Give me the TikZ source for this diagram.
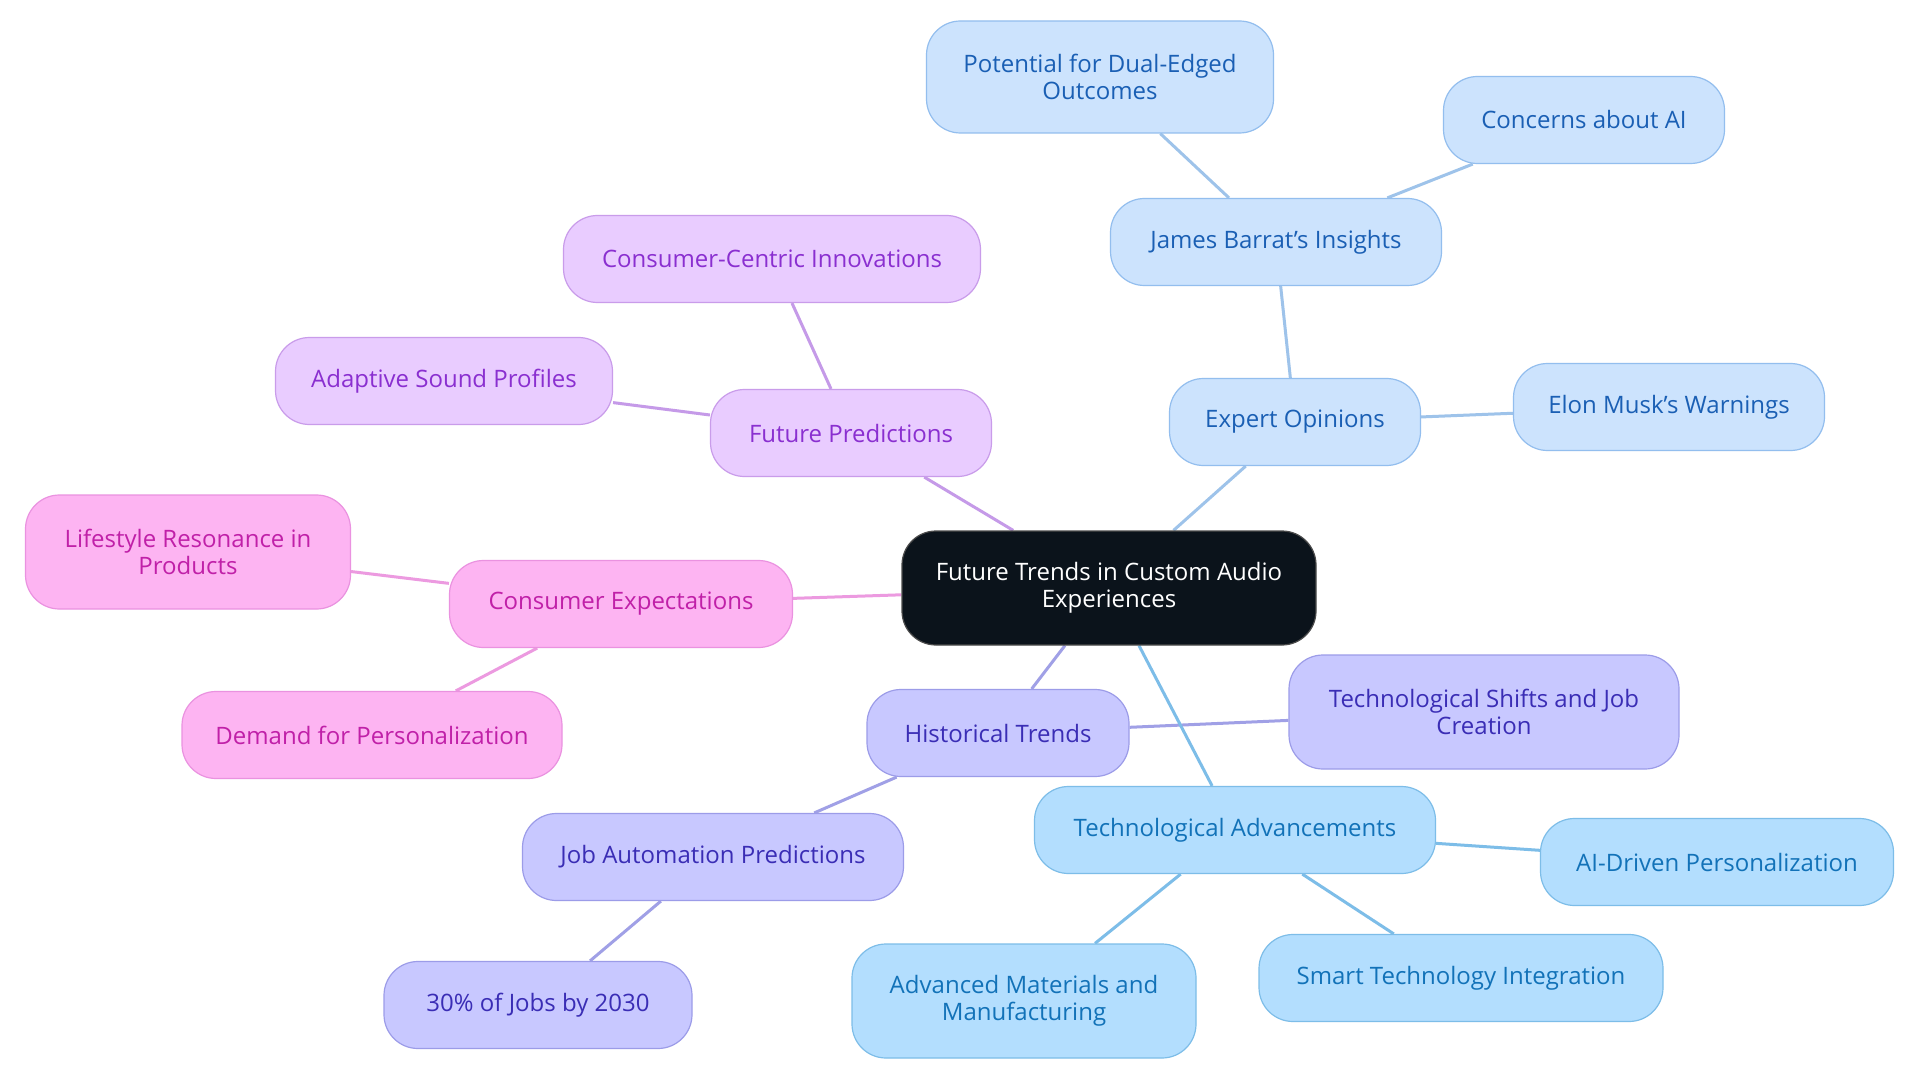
\documentclass[tikz,border=0pt]{standalone}
\usepackage{fontspec}
\setmainfont{Open Sans}
\usetikzlibrary{backgrounds}
\definecolor{bfill}{HTML}{CCE3FD}\definecolor{bdraw}{HTML}{93BEEE}\definecolor{btext}{HTML}{1A5FB4}\definecolor{bline}{HTML}{9EC3EA}
\definecolor{pfill}{HTML}{E9CCFF}\definecolor{pdraw}{HTML}{C99CEA}\definecolor{ptext}{HTML}{8A2FD0}\definecolor{pline}{HTML}{C59AE8}
\definecolor{kfill}{HTML}{FDB4F2}\definecolor{kdraw}{HTML}{EA92E0}\definecolor{ktext}{HTML}{C020A8}\definecolor{kline}{HTML}{EC9AE0}
\definecolor{ifill}{HTML}{C8C8FF}\definecolor{idraw}{HTML}{9C9CE8}\definecolor{itext}{HTML}{3A2DB5}\definecolor{iline}{HTML}{A0A0E6}
\definecolor{sfill}{HTML}{B3DEFE}\definecolor{sdraw}{HTML}{7DBDE8}\definecolor{stext}{HTML}{1272B8}\definecolor{sline}{HTML}{7DBDE8}
\definecolor{cfill}{HTML}{0B131B}
\tikzset{
  box/.style={rectangle, rounded corners=34pt, line width=1.2pt, align=center, inner sep=0pt,
    minimum height=87pt, font=\fontsize{24}{27}\selectfont},
  bluebox/.style={box, fill=bfill, draw=bdraw, text=btext},
  purpbox/.style={box, fill=pfill, draw=pdraw, text=ptext},
  pinkbox/.style={box, fill=kfill, draw=kdraw, text=ktext},
  indbox/.style={box, fill=ifill, draw=idraw, text=itext},
  skybox/.style={box, fill=sfill, draw=sdraw, text=stext},
  tall/.style={minimum height=114pt},
  conn/.style={line width=3pt}
}
\begin{document}
\begin{tikzpicture}[x=1pt,y=-1pt]
\useasboundingbox (0,0) rectangle (1920,1083);
% center
\node[box, fill=cfill, draw=black!70, text=white, minimum width=414pt, minimum height=114pt] (ctr) at (1109,588) {Future Trends in Custom Audio\\Experiences};
% blue
\node[bluebox, minimum width=251pt] (exp) at (1295,422) {Expert Opinions};
\node[bluebox, tall, minimum width=347pt, minimum height=112pt] (dual) at (1100,77) {Potential for Dual-Edged\\Outcomes};
\node[bluebox, minimum width=331pt] (bar) at (1276,242) {James Barrat's Insights};
\node[bluebox, minimum width=281pt] (conc) at (1584,120) {Concerns about AI};
\node[bluebox, minimum width=311pt] (musk) at (1669,407) {Elon Musk's Warnings};
% purple
\node[purpbox, minimum width=281pt] (fut) at (851,433) {Future Predictions};
\node[purpbox, minimum width=417pt] (cci) at (772,259) {Consumer-Centric Innovations};
\node[purpbox, minimum width=337pt] (asp) at (444,381) {Adaptive Sound Profiles};
% pink
\node[pinkbox, minimum width=343pt] (cex) at (621,604) {Consumer Expectations};
\node[pinkbox, tall, minimum width=325pt] (life) at (188,552) {Lifestyle Resonance in\\Products};
\node[pinkbox, minimum width=380pt] (dem) at (372,735) {Demand for Personalization};
% indigo
\node[indbox, minimum width=262pt] (hist) at (998,733) {Historical Trends};
\node[indbox, tall, minimum width=390pt] (shift) at (1484,712) {Technological Shifts and Job\\Creation};
\node[indbox, minimum width=381pt] (jap) at (713,857) {Job Automation Predictions};
\node[indbox, minimum width=308pt] (j30) at (538,1005) {30\% of Jobs by 2030};
% sky
\node[skybox, minimum width=401pt] (tech) at (1235,830) {Technological Advancements};
\node[skybox, minimum width=353pt] (aid) at (1717,862) {AI-Driven Personalization};
\node[skybox, tall, minimum width=344pt] (adv) at (1024,1001) {Advanced Materials and\\Manufacturing};
\node[skybox, minimum width=404pt] (smart) at (1461,978) {Smart Technology Integration};
\begin{scope}[on background layer]
\fill[white] (0,0) rectangle (1920,1083);
\draw[conn, bline] (ctr) -- (exp);
\draw[conn, bline] (exp) -- (bar);
\draw[conn, bline] (bar) -- (dual);
\draw[conn, bline] (bar) -- (conc);
\draw[conn, bline] (exp) -- (musk);
\draw[conn, pline] (ctr) -- (fut);
\draw[conn, pline] (fut) -- (cci);
\draw[conn, pline] (fut) -- (asp);
\draw[conn, kline] (ctr) -- (cex);
\draw[conn, kline] (cex) -- (life);
\draw[conn, kline] (cex) -- (dem);
\draw[conn, iline] (ctr) -- (hist);
\draw[conn, iline] (hist) -- (shift);
\draw[conn, iline] (hist) -- (jap);
\draw[conn, iline] (jap) -- (j30);
\draw[conn, sline] (ctr) -- (tech);
\draw[conn, sline] (tech) -- (aid);
\draw[conn, sline] (tech) -- (adv);
\draw[conn, sline] (tech) -- (smart);
\end{scope}
\end{tikzpicture}
\end{document}
